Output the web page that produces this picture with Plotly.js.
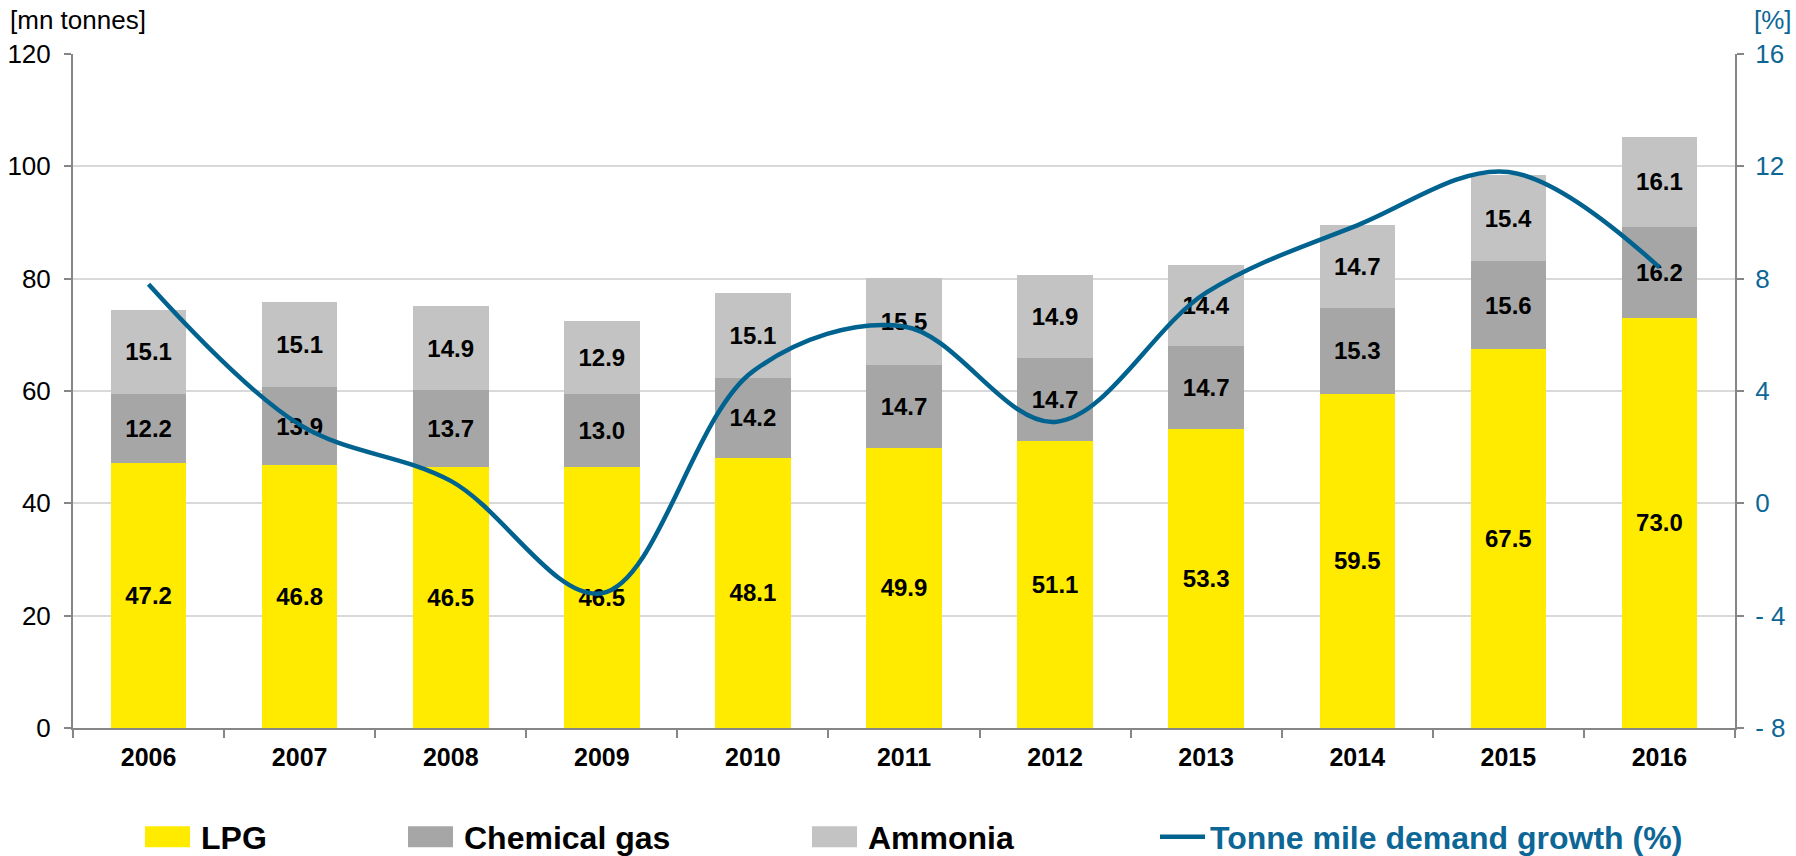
<!DOCTYPE html>
<html>
<head>
<meta charset="utf-8">
<script src="https://cdn.plot.ly/plotly-3.0.1.min.js"></script>
<style>
  html, body { margin: 0; padding: 0; background: #ffffff; }
  #chart { width: 1796px; height: 856px; }
</style>
</head>
<body>
<div id="chart"></div>
<script>
// ---- data ----
var years = ['2006', '2007', '2008', '2009', '2010', '2011', '2012', '2013', '2014', '2015', '2016'];
var lpg = [47.2, 46.8, 46.5, 46.5, 48.1, 49.9, 51.1, 53.3, 59.5, 67.5, 73.0];
var chemicalGas = [12.2, 13.9, 13.7, 13.0, 14.2, 14.7, 14.7, 14.7, 15.3, 15.6, 16.2];
var ammonia = [15.1, 15.1, 14.9, 12.9, 15.1, 15.5, 14.9, 14.4, 14.7, 15.4, 16.1];
var tonneMileGrowth = [7.8, 2.8, 0.8, -3.2, 4.7, 6.3, 2.9, 7.5, 9.9, 11.8, 8.4];

var leftTickVals = [0, 20, 40, 60, 80, 100, 120];
var rightTickVals = [-8, -4, 0, 4, 8, 12, 16];
var rightTickText = ['- 8', '- 4', '0', '4', '8', '12', '16'];

var seriesNames = ['LPG', 'Chemical gas', 'Ammonia', 'Tonne mile demand growth (%)'];

// ---- styles ----
var FONT = 'Liberation Sans, Arial, sans-serif';
var BLUE = '#00628F';
var BLUE_TEXT = '#0D6796';
var AXIS = '#868686';
var GRID = '#D9D9D9';

function barTrace(name, vals, color, legendId) {
  return {
    type: 'bar',
    name: name,
    x: years,
    y: vals,
    marker: { color: color, line: { width: 0 } },
    texttemplate: '%{y:.1f}',
    textposition: 'inside',
    insidetextanchor: 'middle',
    constraintext: 'none',
    textangle: 0,
    textfont: { family: FONT, size: 24, color: '#000000', weight: 'bold' },
    hoverinfo: 'x+y+name',
    legend: legendId,
    yaxis: 'y'
  };
}

var traces = [
  barTrace(seriesNames[0], lpg, '#FFEB00', 'legend'),
  barTrace(seriesNames[1], chemicalGas, '#A6A6A6', 'legend2'),
  barTrace(seriesNames[2], ammonia, '#C3C3C3', 'legend3'),
  {
    type: 'scatter',
    mode: 'lines',
    name: seriesNames[3],
    x: years,
    y: tonneMileGrowth,
    yaxis: 'y2',
    line: { color: BLUE, width: 4.5, shape: 'spline', smoothing: 1 },
    legend: 'legend4'
  }
];

function legendAt(xPix, color) {
  return {
    orientation: 'h',
    xref: 'container', yref: 'container',
    x: xPix / 1796, y: 1 - 837 / 856,
    xanchor: 'left', yanchor: 'middle',
    bgcolor: 'rgba(0,0,0,0)',
    borderwidth: 0,
    itemwidth: 50,
    font: { family: FONT, size: 32, color: color, weight: 'bold' }
  };
}

var layout = {
  width: 1796,
  height: 856,
  paper_bgcolor: '#ffffff',
  plot_bgcolor: '#ffffff',
  margin: { l: 73, r: 61, t: 54, b: 128 },
  barmode: 'stack',
  bargap: 0.5,
  showlegend: true,
  legend: legendAt(141, '#000000'),
  legend2: legendAt(404, '#000000'),
  legend3: legendAt(808, '#000000'),
  legend4: legendAt(1150, BLUE_TEXT),
  xaxis: {
    type: 'category',
    showline: true, linecolor: AXIS, linewidth: 2,
    ticks: 'outside', tickson: 'boundaries', ticklen: 8, tickcolor: AXIS, tickwidth: 2,
    tickfont: { family: FONT, size: 25, color: '#000000', weight: 'bold' },
    ticklabelstandoff: 6,
    showgrid: false, zeroline: false
  },
  yaxis: {
    range: [0, 120],
    tickvals: leftTickVals,
    showline: true, linecolor: AXIS, linewidth: 2,
    ticks: 'outside', ticklen: 7, tickcolor: AXIS, tickwidth: 2,
    tickfont: { family: FONT, size: 26, color: '#000000' },
    ticklabelstandoff: 8,
    showgrid: true, gridcolor: GRID, gridwidth: 2,
    zeroline: false
  },
  yaxis2: {
    overlaying: 'y',
    side: 'right',
    range: [-8, 16],
    tickvals: rightTickVals,
    ticktext: rightTickText,
    showline: true, linecolor: AXIS, linewidth: 2,
    ticks: 'outside', ticklen: 7, tickcolor: AXIS, tickwidth: 2,
    tickfont: { family: FONT, size: 26, color: BLUE_TEXT },
    ticklabelstandoff: 6,
    showgrid: false, zeroline: false
  },
  annotations: [
    {
      text: '[mn tonnes]', xref: 'paper', yref: 'paper',
      x: (8 - 73) / 1662, y: 1 + 34 / 674, xanchor: 'left', yanchor: 'middle',
      showarrow: false, font: { family: FONT, size: 26, color: '#000000' }
    },
    {
      text: '[%]', xref: 'paper', yref: 'paper',
      x: (1794 - 73) / 1662, y: 1 + 34 / 674, xanchor: 'right', yanchor: 'middle',
      showarrow: false, font: { family: FONT, size: 26, color: BLUE_TEXT }
    }
  ]
};

// widen the legend swatches to the wide rectangles / long line of the reference
function widenSwatches() {
  document.querySelectorAll('g.legendpoints path').forEach(function (p) {
    p.setAttribute('d', 'M-26,-10.5H19V10.5H-26Z');
  });
  document.querySelectorAll('g.legendlines path').forEach(function (p) {
    if (p.getAttribute('data-widened')) return;
    var bb;
    try { bb = p.getBBox(); } catch (e) { return; }
    if (!bb || !bb.width) return;
    var end = bb.x + bb.width;
    var cy = bb.y + bb.height / 2;
    p.setAttribute('d', 'M' + (end - 45) + ',' + cy + 'h45');
    p.setAttribute('data-widened', '1');
  });
}

Plotly.newPlot('chart', traces, layout, { displayModeBar: false, responsive: false })
  .then(function (gd) {
    widenSwatches();
    setTimeout(widenSwatches, 50);
  });
</script>
</body>
</html>
